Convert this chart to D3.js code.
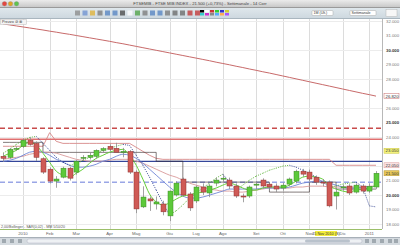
<!DOCTYPE html>
<html><head><meta charset="utf-8">
<script src="https://cdn.jsdelivr.net/npm/d3@7/dist/d3.min.js"></script>
<style>
body{margin:0;background:#fff;overflow:hidden}
svg{display:block;font-family:"Liberation Sans",Arial,sans-serif}
</style></head><body>
<script>
// ----------------------------------- DATA --------------------------------------------
var weeks = ['2009-12-14','2009-12-21','2009-12-28','2010-01-04','2010-01-11','2010-01-18','2010-01-25',
	'2010-02-01','2010-02-08','2010-02-15','2010-02-22','2010-03-01','2010-03-08','2010-03-15','2010-03-22',
	'2010-03-29','2010-04-05','2010-04-12','2010-04-19','2010-04-26','2010-05-03','2010-05-10','2010-05-17',
	'2010-05-24','2010-05-31','2010-06-07','2010-06-14','2010-06-21','2010-06-28','2010-07-05','2010-07-12',
	'2010-07-19','2010-07-26','2010-08-02','2010-08-09','2010-08-16','2010-08-23','2010-08-30','2010-09-06',
	'2010-09-13','2010-09-20','2010-09-27','2010-10-04','2010-10-11','2010-10-18','2010-10-25','2010-11-01',
	'2010-11-08','2010-11-15','2010-11-22','2010-11-29','2010-12-06','2010-12-13','2010-12-20','2010-12-27',
	'2011-01-03','2011-01-10']

var open  = [22670,22600,23150,23360,23770,23560,22500,21780,20960,21230,21850,21580,22530,22600,22670,23080,
	23360,23220,22950,23000,21580,19180,19730,19380,19380,18560,20000,21100,20070,19590,20550,20140,20820,21100,
	21030,20620,19930,19930,20680,21030,20750,20620,20480,20750,20960,21640,21580,21230,20890,20890,19930,20500,
	20620,20200,20620,20270,20550]
var high  = [22900,23250,23350,23900,23970,23700,22600,21900,21300,21950,21950,22400,22750,22900,23150,23300,
	23500,23600,23250,23100,21700,20600,19900,19900,19600,20300,20950,21200,20200,20650,20800,20750,21200,21400,
	21200,20800,20100,20650,20950,21150,20900,20800,20850,21200,21750,21800,21750,21350,21100,21000,20500,20700,
	20750,20800,20750,20800,21650]
var low   = [22300,22500,23050,23250,23400,22350,21450,20800,20500,21150,21000,21400,22350,22450,22500,22950,
	23000,22900,22600,21450,18750,19100,18900,19000,18600,18200,19900,19900,18900,19450,20000,19850,20600,20900,
	20400,19800,19500,19800,20400,20450,20300,20200,20300,20600,20800,21250,20950,20700,20600,19150,19000,20300,
	20000,20100,20100,20150,20400]
var close = [22530,23150,23220,23770,23490,22600,21580,20960,21100,21850,21160,22330,22600,22740,23080,23200,
	23150,22950,23010,21580,19040,19860,19590,19520,18840,20270,20820,20000,19110,20550,20200,20620,21030,21160,
	20620,19930,19860,20550,20750,20620,20550,20410,20680,21100,21640,21440,21100,20890,20850,19250,20200,20560,
	20140,20680,20270,20600,21500]

// long moving average (top red line)
var maLong = [31800,31730,31660,31590,31520,31450,31380,31300,31230,31150,31080,31000,30920,30840,30760,30680,
	30600,30510,30430,30340,30250,30160,30070,29980,29890,29800,29710,29620,29530,29440,29350,29260,29160,29070,
	28980,28880,28790,28690,28600,28500,28410,28310,28210,28110,28010,27910,27810,27710,27610,27510,27410,27310,
	27210,27110,27010,26920,26820]
// short average (green)
var maShort = [22670,22880,23080,23420,23630,23420,22880,22260,21640,21370,21230,21500,21780,22190,22530,22740,
	22950,23080,23150,22740,22050,21090,20070,19520,19310,19450,19720,19930,20000,20140,20200,20340,20480,20680,
	20820,20680,20480,20340,20340,20480,20550,20550,20550,20680,20960,21230,21300,21230,21090,20620,20410,20270,
	20200,20340,20410,20480,20680]
// medium average (blue)
var maMid = [22330,22400,22530,22740,22950,23010,22950,22740,22460,22260,22050,21920,21920,21990,22120,22330,
	22460,22670,22810,22740,22530,22190,21780,21370,20960,20550,20200,19930,19790,19790,19860,19990,20130,20270,
	20410,20410,20410,20410,20410,20480,20480,20480,20480,20550,20680,20820,20890,20960,20960,20820,20680,20550,
	20480,20480,20550,20550,20610]
// slow average (pink)
var maSlow = [22460,22530,22600,22670,22810,22880,22950,22950,22880,22740,22600,22460,22400,22330,22330,22330,
	22400,22460,22460,22460,22330,22190,21990,21780,21570,21370,21230,21020,20820,20680,20550,20410,20340,20270,
	20270,20200,20200,20270,20340,20410,20480,20480,20480,20480,20550,20550,20610,20610,20610,20550,20550,20550,
	20550,20550,20550,20610,20610]
// upper channel (thin red steps)
var channelHigh = [23360,23360,23360,23360,23360,23360,23360,24300,23700,23560,23560,23560,23560,23560,23560,23560,
	23560,23560,23560,23560,23290,23010,22740,22530,22460,22460,22460,22460,22460,22460,22460,22460,22460,22460,
	22460,22460,22460,22460,22460,22460,22460,22460,22460,22460,22460,22460,22460,22460,22460,22460,22050,22050,
	22050,22050,22050,22050,22050]
// mid channel (dark steps)
var channelMid = [23630,23630,23630,23630,23630,23630,22940,22940,22940,22940,22940,22940,22940,22940,22940,22940,
	22940,22940,22940,22940,22940,22940,22940,22330,22330,22330,22330,20890,20890,20890,20890,20890,20890,20890,
	20890,20890,20890,20890,20890,20890,20200,20200,20200,20200,20200,20200,20890,20890,20890,20890,20410,20410,
	20410,20410,20410,20410,20410]
// parabolic stop (dotted)
var sar = [22880,23150,23490,23770,23970,24040,23560,23080,22600,22260,22050,22120,22400,22600,22880,23080,
	23220,23360,23490,23420,22740,22050,21230,20340,19450,18630,18910,19310,19790,20130,20480,20820,21160,21440,
	20890,20340,20680,21020,21300,21500,21710,21850,21990,22050,21920,21710,21500,21230,20890,20550,20620,20750,
	20820,20890,20550,19250,19180]

// horizontal lines drawn on the chart
var resistDash = 24600
var resistLine = 23850
var supportBlue = 22320
var supportDash = 20880

var monthLabels = ['2010','Feb','Mar','Apr','Mag','Giu','Lug','Ago','Set','Ott','Nov','Dic','2011']
var yTicks = [18000,19000,20000,21000,22000,23000,24000,25000,26000,27000,28000,29000,30000,31000,32000]

var title = 'FTSEMIB - FTSE MIB INDEX - 21.500 (+0,73%) - Settimanale - 14 Corr'

// ----------------------------------- SVG --------------------------------------------
var width = 400, height = 245
var plotRight = 382, plotTop = 19, plotBottom = 229

var svg = d3.select('body').append('svg')
	.attr('width', width).attr('height', height)

var defs = svg.append('defs')
var g1 = defs.append('linearGradient').attr('id', 'titlebar').attr('x1', 0).attr('x2', 0).attr('y1', 0).attr('y2', 1)
g1.append('stop').attr('offset', 0).attr('stop-color', '#ebebeb')
g1.append('stop').attr('offset', 1).attr('stop-color', '#c4c4c4')
var g2 = defs.append('linearGradient').attr('id', 'toolbar').attr('x1', 0).attr('x2', 0).attr('y1', 0).attr('y2', 1)
g2.append('stop').attr('offset', 0).attr('stop-color', '#dfe7ec')
g2.append('stop').attr('offset', 1).attr('stop-color', '#ccd7de')

var parse = d3.timeParse('%Y-%m-%d')
var dates = weeks.map(parse)
var data = dates.map(function(d, i){
	return {date: d, o: open[i], h: high[i], l: low[i], c: close[i]}
})

var x = d3.scaleTime().domain([dates[0], dates[dates.length - 1]]).range([3, 376])
var y = d3.scaleLinear().domain([30000, 20000]).range([50, 195])

// chart background
svg.append('rect').attr('width', width).attr('height', height).attr('fill', '#fff')

// ----------------------------------- GRID --------------------------------------------
var monthStarts = dates.filter(function(d, i){
	return i > 0 && d.getMonth() !== dates[i - 1].getMonth()
})

svg.append('g').selectAll('line').data(monthStarts).enter().append('line')
	.attr('x1', function(d){ return Math.round(x(d)) + 0.5 })
	.attr('x2', function(d){ return Math.round(x(d)) + 0.5 })
	.attr('y1', plotTop).attr('y2', plotBottom)
	.attr('stroke', '#dcdcdc').attr('stroke-width', 1)

svg.append('g').selectAll('line').data(yTicks.filter(function(t){ return t % 2000 === 0 })).enter().append('line')
	.attr('x1', 0).attr('x2', plotRight)
	.attr('y1', function(d){ return Math.round(y(d)) + 0.5 })
	.attr('y2', function(d){ return Math.round(y(d)) + 0.5 })
	.attr('stroke', '#ececec')

// ----------------------------------- LINES --------------------------------------------
var line = function(arr, curve){
	return d3.line()
		.x(function(d, i){ return x(dates[i]) })
		.y(function(d){ return y(d) })
		.curve(curve || d3.curveMonotoneX)(arr)
}

svg.append('path').attr('d', line(maLong)).attr('fill', 'none')
	.attr('stroke', '#c86a6a').attr('stroke-width', 1)

// horizontal support / resistance
svg.append('line').attr('x1', 0).attr('x2', plotRight)
	.attr('y1', y(resistDash)).attr('y2', y(resistDash))
	.attr('stroke', '#c84b4b').attr('stroke-width', 1.6).attr('stroke-dasharray', '5,3')
svg.append('line').attr('x1', 0).attr('x2', plotRight)
	.attr('y1', y(resistLine)).attr('y2', y(resistLine))
	.attr('stroke', '#e07070').attr('stroke-width', 1.4)
svg.append('line').attr('x1', 0).attr('x2', plotRight)
	.attr('y1', y(supportBlue)).attr('y2', y(supportBlue))
	.attr('stroke', '#34469a').attr('stroke-width', 1.3)
svg.append('line').attr('x1', 0).attr('x2', plotRight)
	.attr('y1', y(supportDash)).attr('y2', y(supportDash))
	.attr('stroke', '#9aa6e6').attr('stroke-width', 1.6).attr('stroke-dasharray', '5,3')

// channel steps
svg.append('path').attr('d', line(channelHigh, d3.curveLinear)).attr('fill', 'none')
	.attr('stroke', '#d27878').attr('stroke-width', 0.8)
svg.append('path').attr('d', line(channelMid, d3.curveStepAfter)).attr('fill', 'none')
	.attr('stroke', '#3a3030').attr('stroke-width', 0.8).attr('opacity', 0.8)

svg.append('path').attr('d', line(maSlow)).attr('fill', 'none')
	.attr('stroke', '#d99a9a').attr('stroke-width', 0.9)
svg.append('path').attr('d', line(maMid)).attr('fill', 'none')
	.attr('stroke', '#6f86d6').attr('stroke-width', 0.9)
svg.append('path').attr('d', line(maShort)).attr('fill', 'none')
	.attr('stroke', '#66d13a').attr('stroke-width', 1)

// dotted stop, green when rising, navy when falling
svg.append('g').selectAll('line').data(sar.slice(1)).enter().append('line')
	.attr('x1', function(d, i){ return x(dates[i]) })
	.attr('x2', function(d, i){ return x(dates[i + 1]) })
	.attr('y1', function(d, i){ return y(sar[i]) })
	.attr('y2', function(d){ return y(d) })
	.attr('stroke', function(d, i){ return d >= sar[i] ? '#55b030' : '#2e3f8f' })
	.attr('stroke-width', 0.9).attr('stroke-dasharray', '1,1.2')

// ----------------------------------- CANDLES --------------------------------------------
var candles = svg.append('g').selectAll('g').data(data).enter().append('g')

candles.append('line')
	.attr('x1', function(d){ return Math.round(x(d.date)) + 0.5 })
	.attr('x2', function(d){ return Math.round(x(d.date)) + 0.5 })
	.attr('y1', function(d){ return y(d.h) })
	.attr('y2', function(d){ return y(d.l) })
	.attr('stroke', '#8c8c8c').attr('stroke-width', 0.8)

candles.append('rect')
	.attr('x', function(d){ return Math.round(x(d.date)) - 2 })
	.attr('width', 5)
	.attr('y', function(d){ return y(Math.max(d.o, d.c)) })
	.attr('height', function(d){ return Math.max(1, Math.abs(y(d.o) - y(d.c))) })
	.attr('fill', function(d){ return d.c >= d.o ? '#5cc93a' : '#cf5a56' })
	.attr('stroke', function(d){ return d.c >= d.o ? '#3d8a25' : '#8e3431' })
	.attr('stroke-width', 0.5)

// ----------------------------------- RIGHT AXIS --------------------------------------------
svg.append('rect').attr('x', plotRight).attr('y', plotTop).attr('width', width - plotRight).attr('height', plotBottom - plotTop)
	.attr('fill', '#fff')
svg.append('line').attr('x1', plotRight + 0.5).attr('x2', plotRight + 0.5).attr('y1', plotTop).attr('y2', plotBottom)
	.attr('stroke', '#b8b8b8')

var fmt = function(v){ return d3.format(',')(v).replace(/,/g, '.') }

var tags = [
	{v: maLong[maLong.length - 1], fill: '#fff', stroke: '#c86a6a'},
	{v: high[high.length - 1] + 1400, fill: '#f3f27a', stroke: '#c9c640'},
	{v: channelHigh[channelHigh.length - 1], fill: '#fbe3e3', stroke: '#d99a9a'},
	{v: close[close.length - 1], fill: '#e8c85a', stroke: '#b8962e'}
]

// tick labels, skipping the ones hidden under a value tag
var freeTicks = yTicks.filter(function(t){
	return tags.every(function(tag){ return Math.abs(y(t) - y(tag.v)) > 4.5 })
})
svg.append('g').selectAll('text').data(freeTicks).enter().append('text')
	.attr('x', 386).attr('y', function(d){ return y(d) + 1.5 })
	.attr('font-size', 4.3)
	.attr('font-weight', function(d){ return d % 5000 === 0 ? 'bold' : 'normal' })
	.attr('fill', function(d){ return d % 5000 === 0 ? '#333' : '#777' })
	.text(fmt)

var tg = svg.append('g').selectAll('g').data(tags).enter().append('g')
tg.append('rect').attr('x', 384).attr('y', function(d){ return y(d.v) - 2.5 }).attr('width', 15).attr('height', 5)
	.attr('fill', function(d){ return d.fill }).attr('stroke', function(d){ return d.stroke }).attr('stroke-width', 0.5)
tg.append('text').attr('x', 385.5).attr('y', function(d){ return y(d.v) + 1.5 }).attr('font-size', 4.3).attr('fill', '#333')
	.text(function(d){ return fmt(Math.round(d.v)) })

// ----------------------------------- X AXIS --------------------------------------------
svg.append('line').attr('x1', 0).attr('x2', plotRight).attr('y1', plotBottom + 0.5).attr('y2', plotBottom + 0.5)
	.attr('stroke', '#9cbf6a').attr('stroke-width', 1)
svg.append('rect').attr('x', 0).attr('y', plotBottom + 1).attr('width', width).attr('height', 7).attr('fill', '#fff')

svg.append('g').selectAll('text').data([dates[3]].concat(monthStarts.slice(1))).enter().append('text')
	.attr('x', function(d){ return x(d) }).attr('y', 234.5)
	.attr('text-anchor', 'middle').attr('font-size', 4.3).attr('fill', '#666')
	.text(function(d, i){ return monthLabels[i] })

svg.append('rect').attr('x', 315).attr('y', 231).attr('width', 22).attr('height', 5).attr('fill', '#f5ee3c')
svg.append('text').attr('x', 326).attr('y', 234.6).attr('text-anchor', 'middle').attr('font-size', 3.8)
	.attr('fill', '#333').text('15 Nov 2010 (S)')

svg.append('text').attr('x', 1).attr('y', 228).attr('font-size', 3.6).attr('fill', '#555')
	.text('2,00/Bollinger - SAR(0,02) - MM 5/10/20')

// legend box
svg.append('rect').attr('x', 0.5).attr('y', 19.5).attr('width', 26).attr('height', 5).attr('fill', '#f4f4f4').attr('stroke', '#bbb').attr('stroke-width', 0.5)
svg.append('text').attr('x', 2).attr('y', 23.4).attr('font-size', 3.8).attr('fill', '#444').text('Prezzo  \u2298 \u2297')

// ----------------------------------- WINDOW CHROME --------------------------------------------
svg.append('rect').attr('width', width).attr('height', 8).attr('fill', 'url(#titlebar)')
svg.append('line').attr('x1', 0).attr('x2', width).attr('y1', 7.5).attr('y2', 7.5).attr('stroke', '#9a9a9a')
svg.append('g').selectAll('circle').data(['#e3463f', '#dfa425', '#5fc34f']).enter().append('circle')
	.attr('cx', function(d, i){ return 4.5 + i * 6 }).attr('cy', 3.8).attr('r', 2.3)
	.attr('fill', function(d){ return d }).attr('stroke', '#888').attr('stroke-width', 0.3)
svg.append('text').attr('x', 200).attr('y', 5.3).attr('text-anchor', 'middle').attr('font-size', 4.2)
	.attr('fill', '#444').text(title)

svg.append('rect').attr('y', 8).attr('width', width).attr('height', 11).attr('fill', 'url(#toolbar)')
svg.append('line').attr('x1', 0).attr('x2', width).attr('y1', 18.5).attr('y2', 18.5).attr('stroke', '#a9b6bf')

// toolbar icons
var icons = d3.range(75, 200, 7.5)
svg.append('g').selectAll('rect').data(icons).enter().append('rect')
	.attr('x', function(d){ return d }).attr('y', 10.5).attr('width', 5).attr('height', 5)
	.attr('fill', function(d, i){ return ['#888', '#6a8fd0', '#e0b030', '#777', '#5080c0', '#5080c0', '#444', '#fff',
		'#4aa040', '#777', '#5080c0', '#5080c0', '#777', '#666', '#666', '#c03030', '#c03030'][i % 17] })
	.attr('opacity', 0.75)
var swatches = ['#000', '#fff', '#c33', '#3c3', '#33c', '#cc3', '#3cc', '#c3c', '#888', '#5af', '#fa5', '#a5f']
svg.append('g').selectAll('rect').data(swatches).enter().append('rect')
	.attr('x', function(d, i){ return 200 + (i % 6) * 5 }).attr('y', function(d, i){ return 10 + Math.floor(i / 6) * 3 })
	.attr('width', 4).attr('height', 2.5).attr('fill', function(d){ return d })

var drops = [{x: 312, w: 21, t: '1M (Ult.)'}, {x: 350, w: 26, t: 'Settimanale'}]
var dd = svg.append('g').selectAll('g').data(drops).enter().append('g')
dd.append('rect').attr('x', function(d){ return d.x }).attr('y', 10.5).attr('width', function(d){ return d.w }).attr('height', 5)
	.attr('rx', 1).attr('fill', '#fff').attr('stroke', '#999').attr('stroke-width', 0.4)
dd.append('text').attr('x', function(d){ return d.x + 1.5 }).attr('y', 14.2).attr('font-size', 3.6).attr('fill', '#333')
	.text(function(d){ return d.t })
svg.append('rect').attr('x', 386).attr('y', 9.5).attr('width', 11).attr('height', 7).attr('fill', '#f7f7f7').attr('stroke', '#aaa').attr('stroke-width', 0.4)

// bottom bar
svg.append('rect').attr('y', 237).attr('width', width).attr('height', 8).attr('fill', '#d5dbe0')
svg.append('line').attr('x1', 0).attr('x2', width).attr('y1', 237.5).attr('y2', 237.5).attr('stroke', '#a8b0b8')
svg.append('rect').attr('x', 27).attr('y', 239).attr('width', 335).attr('height', 4).attr('rx', 2)
	.attr('fill', '#eef1f4').attr('stroke', '#aab').attr('stroke-width', 0.4)
svg.append('rect').attr('x', 305).attr('y', 239.5).attr('width', 45).attr('height', 3).attr('rx', 1.5).attr('fill', '#b9c2cc')
svg.append('g').selectAll('rect').data([2, 10, 18, 365, 372, 380, 388, 394]).enter().append('rect')
	.attr('x', function(d){ return d }).attr('y', 239).attr('width', 4).attr('height', 4)
	.attr('fill', '#7d8790').attr('opacity', 0.6)
</script>
</body></html>
